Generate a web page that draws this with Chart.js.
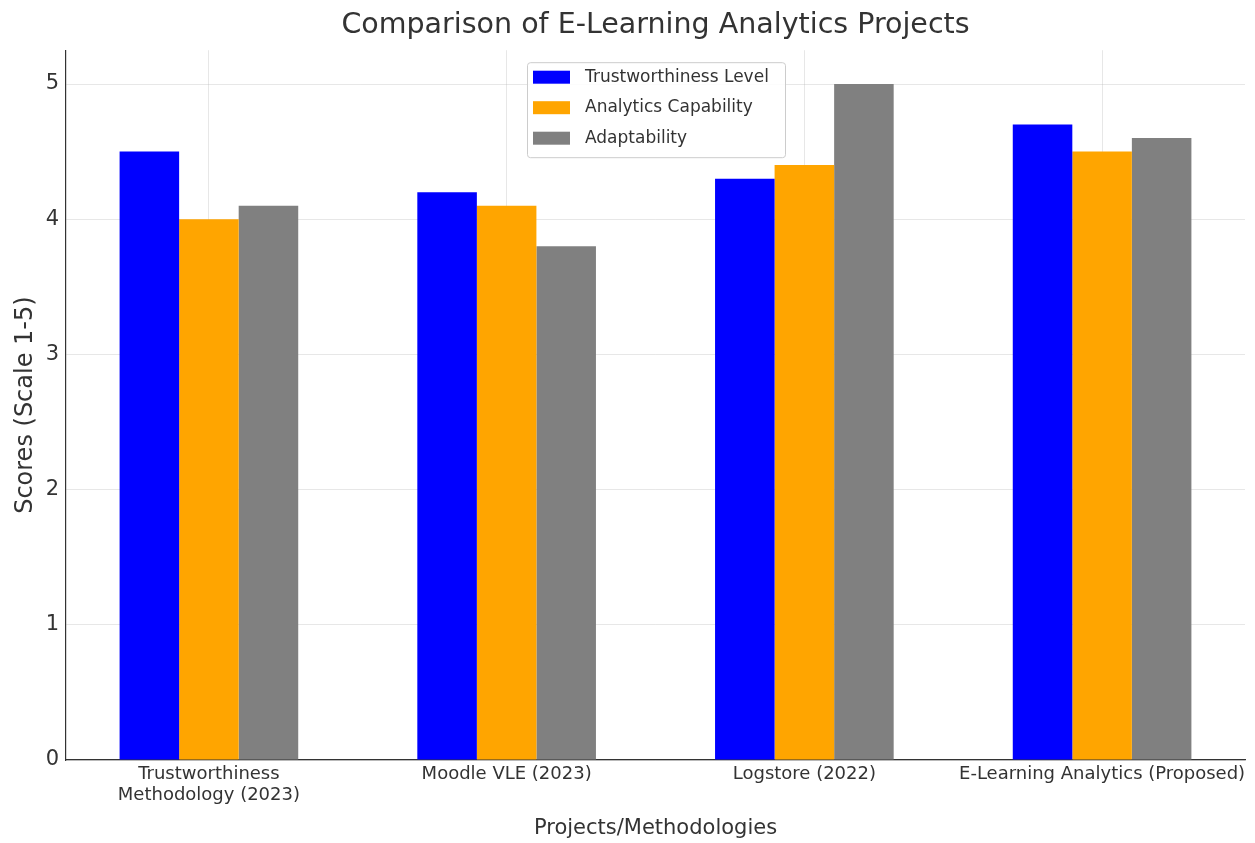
<!DOCTYPE html>
<html>
<head>
<meta charset="utf-8">
<script src="https://cdn.jsdelivr.net/npm/chart.js@4"></script>
<style>
    body { margin: 0; background: #fff; }
    #projects_chart { display: block; }
</style>
</head>
<body>
<canvas id="projects_chart" width="1255" height="843"></canvas>
<script>
var projects = [['Trustworthiness', 'Methodology (2023)'], 'Moodle VLE (2023)', 'Logstore (2022)', 'E-Learning Analytics (Proposed)'];
var trustworthiness = [4.5, 4.2, 4.3, 4.7];
var analytics = [4.0, 4.1, 4.4, 4.5];
var adaptability = [4.1, 3.8, 5.0, 4.6];
var yTicks = [0, 1, 2, 3, 4, 5];

(function () {
    var textColor = '#333333';
    var gridColor = 'rgba(176,176,176,0.3)';

    /*bars sit on a numeric x axis (project index) so the margins match matplotlib*/
    function points(values) {
        return values.map(function (v, i) { return {x: i, y: v}; });
    }

    //legend box drawn inside the plot like matplotlib does
    var boxLegend = {
        id: 'boxLegend',
        afterDraw: function (chart) {
            var ctx = chart.ctx;
            var area = chart.chartArea;
            var sets = chart.data.datasets;
            var x = area.left + 461, y = area.top + 12;
            var w = 258, rowH = 30.5, h = 95;
            ctx.save();
            ctx.fillStyle = 'rgba(255,255,255,0.85)';
            ctx.strokeStyle = '#cccccc';
            ctx.lineWidth = 1;
            ctx.beginPath();
            ctx.roundRect(x + 0.5, y + 0.5, w, h, 3);
            ctx.fill();
            ctx.stroke();
            ctx.font = '17px "DejaVu Sans"';
            ctx.textBaseline = 'middle';
            ctx.textAlign = 'left';
            for (var i = 0; i < sets.length; i++) {
                var cy = y + 15 + i * rowH;
                ctx.fillStyle = sets[i].backgroundColor;
                ctx.fillRect(x + 6, cy - 6.5, 37, 13);
                ctx.fillStyle = textColor;
                ctx.fillText(sets[i].label, x + 58, cy);
            }
            ctx.restore();
        }
    };

    new Chart(document.getElementById('projects_chart'), {
        type: 'bar',
        data: {
            datasets: [
                {label: 'Trustworthiness Level', data: points(trustworthiness), backgroundColor: '#0000ff'},
                {label: 'Analytics Capability', data: points(analytics), backgroundColor: '#ffa500'},
                {label: 'Adaptability', data: points(adaptability), backgroundColor: '#808080'}
            ]
        },
        options: {
            responsive: false,
            animation: false,
            layout: {padding: {left: 8, right: 10, top: 0, bottom: 0}},
            datasets: {bar: {categoryPercentage: 0.6, barPercentage: 1.0, borderWidth: 0}},
            plugins: {
                legend: {display: false},
                tooltip: {enabled: false},
                title: {
                    display: true,
                    fullSize: false,
                    text: 'Comparison of E-Learning Analytics Projects',
                    color: textColor,
                    font: {family: 'DejaVu Sans', size: 28.5, weight: 'normal'},
                    padding: {top: 8, bottom: 8}
                }
            },
            scales: {
                x: {
                    type: 'linear',
                    z: 1,
                    min: -0.48,
                    max: 3.48,
                    offset: false,
                    afterFit: function (scale) { scale.height = 83; },
                    afterBuildTicks: function (scale) {
                        scale.ticks = projects.map(function (p, i) { return {value: i}; });
                    },
                    grid: {offset: false, color: gridColor, drawTicks: false},
                    border: {color: '#333333', width: 1.2},
                    ticks: {
                        color: textColor,
                        padding: 4,
                        font: {family: 'DejaVu Sans', size: 18, lineHeight: 1.15},
                        maxRotation: 0,
                        autoSkip: false,
                        callback: function (value) { return projects[value]; }
                    },
                    title: {
                        display: true,
                        text: 'Projects/Methodologies',
                        color: textColor,
                        font: {family: 'DejaVu Sans', size: 21},
                        padding: {top: 0, bottom: 2}
                    }
                },
                y: {
                    z: 1,
                    min: 0,
                    max: 5.25,
                    afterFit: function (scale) { scale.width = 58; },
                    afterBuildTicks: function (scale) {
                        scale.ticks = yTicks.map(function (v) { return {value: v}; });
                    },
                    grid: {color: gridColor, drawTicks: false},
                    border: {color: '#333333', width: 1.2},
                    ticks: {color: textColor, padding: 7, font: {family: 'DejaVu Sans', size: 21}},
                    title: {
                        display: true,
                        text: 'Scores (Scale 1-5)',
                        color: textColor,
                        font: {family: 'DejaVu Sans', size: 24},
                        padding: {top: 3, bottom: 0}
                    }
                }
            }
        },
        plugins: [boxLegend]
    });
})()
</script>
</body>
</html>
